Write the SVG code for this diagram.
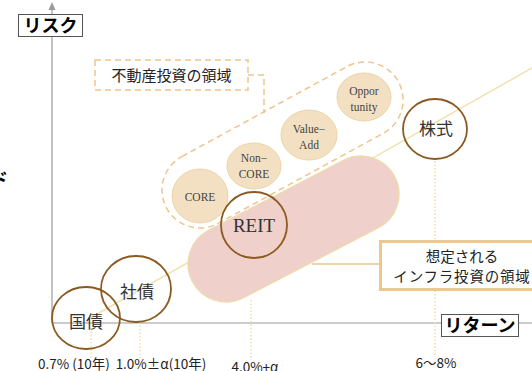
<svg xmlns="http://www.w3.org/2000/svg" width="532" height="371" viewBox="0 0 532 371">
<defs>
<style>
.ax{stroke:#9a9a9a;stroke-width:1.2;fill:none}
.axlbl{fill:#fff;stroke:#555;stroke-width:1}
.axt{font-family:"Noto Sans CJK JP","Noto Sans",sans-serif;font-weight:bold;font-size:18px;fill:#000;text-anchor:middle}
.dot{stroke:#f0e0a6;stroke-width:1.5;stroke-dasharray:1.5 2;fill:none}
.asset{fill:none;stroke:#8a5a20;stroke-width:1.8}
.at{font-family:"Noto Sans CJK JP","Noto Sans",sans-serif;font-size:17px;fill:#333;text-anchor:middle}
.re{fill:#f3e0c2;stroke:#ecd4a6;stroke-width:1}
.ret{font-family:"Liberation Serif",serif;font-size:11.5px;fill:#444;text-anchor:middle}
.dash{fill:none;stroke:#f0c48c;stroke-width:1.5;stroke-dasharray:6 4}
.jp{font-family:"Noto Sans CJK JP","Noto Sans",sans-serif;fill:#222;text-anchor:middle}
.val{font-family:"Noto Sans CJK JP","Noto Sans",sans-serif;font-size:13.5px;fill:#222;text-anchor:middle}
</style>
</defs>
<rect width="532" height="371" fill="#fff"/>

<g id="connectors">
<line class="ax" x1="52" y1="8" x2="52" y2="323"/>
<polygon points="52,2 48.5,10 55.5,10" fill="#9a9a9a"/>
<line class="ax" x1="52" y1="323" x2="532" y2="323"/>
<line x1="90" y1="318" x2="532" y2="68" stroke="#efe2b0" stroke-width="1.5"/>
<line class="dot" x1="91" y1="328" x2="91" y2="358"/>
<line class="dot" x1="140" y1="322" x2="140" y2="358"/>
<line class="dot" x1="251" y1="300" x2="251" y2="360"/>
<line class="dot" x1="435" y1="161" x2="435" y2="357"/>
<polyline class="dash" points="248,75 264,75 264,113"/>
<line x1="312" y1="264" x2="379" y2="264" stroke="#efd3a8" stroke-width="2"/>
</g>

<g id="infra-area">
<rect x="179.5" y="191" width="228" height="76" rx="38" transform="rotate(-27.4 293.5 229)" fill="#f0d0ca" stroke="#ecdca8" stroke-width="1.2"/>
</g>

<g id="re-area">
<rect x="150.5" y="107" width="264" height="76" rx="38" transform="rotate(-28.6 282.5 145)" class="dash"/>
</g>

<g id="re-label">
<rect x="95" y="60" width="153" height="30" class="dash" fill="#fff"/>
<text class="jp" x="171.5" y="81" font-size="15">不動産投資の領域</text>
</g>

<g id="core">
<ellipse class="re" cx="200" cy="196" rx="28" ry="27"/>
<text class="ret" x="200" y="201">CORE</text>
</g>
<g id="noncore">
<ellipse class="re" cx="254" cy="166" rx="27" ry="23"/>
<text class="ret" x="254" y="162">Non−</text>
<text class="ret" x="254" y="178">CORE</text>
</g>
<g id="valueadd">
<ellipse class="re" cx="309" cy="135" rx="28" ry="25"/>
<text class="ret" x="309" y="133">Value−</text>
<text class="ret" x="309" y="149">Add</text>
</g>
<g id="opportunity">
<ellipse class="re" cx="364" cy="97" rx="27" ry="24"/>
<text class="ret" x="364" y="95">Oppor</text>
<text class="ret" x="364" y="111">tunity</text>
</g>

<g id="kokusai">
<ellipse class="asset" cx="86" cy="318" rx="34" ry="31"/>
<text class="at" x="86" y="328">国債</text>
</g>
<g id="shasai">
<ellipse class="asset" cx="136" cy="289" rx="35" ry="33"/>
<text class="at" x="137" y="298">社債</text>
</g>
<g id="reit">
<circle class="asset" cx="254" cy="225" r="33"/>
<text x="254" y="232" font-family="Liberation Serif,serif" font-size="19" fill="#333" text-anchor="middle">REIT</text>
</g>
<g id="kabushiki">
<ellipse class="asset" cx="435" cy="129" rx="32" ry="30"/>
<text class="at" x="436" y="135">株式</text>
</g>

<g id="infra-label">
<rect x="380.5" y="241.5" width="166" height="48" fill="#fff" stroke="#ecc890" stroke-width="3"/>
<text class="jp" x="462" y="262" font-size="14.5">想定される</text>
<text class="jp" x="462" y="282" font-size="14.5" letter-spacing="0.8">インフラ投資の領域</text>
</g>

<g id="risk-label">
<rect class="axlbl" x="18.5" y="14.5" width="64" height="22"/>
<text class="axt" x="50.5" y="32">リスク</text>
</g>
<g id="return-label">
<rect class="axlbl" x="441.5" y="314.5" width="77" height="22"/>
<text class="axt" x="480" y="332">リターン</text>
</g>

<g id="values">
<text class="val" x="74" y="369">0.7% (10年)</text>
<text class="val" x="161" y="369">1.0%±α(10年)</text>
<text class="val" x="255" y="372">4.0%+α</text>
<text class="val" x="436" y="368">6～8%</text>
</g>

<text x="-10" y="186" font-family="'Noto Sans CJK JP',sans-serif" font-weight="bold" font-size="18" fill="#000">ド</text>
</svg>
